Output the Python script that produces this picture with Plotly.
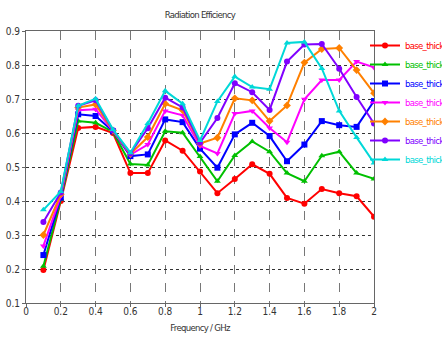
import plotly.graph_objects as go

# Frequency sweep points (GHz)
freq = [0.1, 0.2, 0.3, 0.4, 0.5, 0.6, 0.7, 0.8, 0.9, 1.0,
        1.1, 1.2, 1.3, 1.4, 1.5, 1.6, 1.7, 1.8, 1.9, 2.0]

# Radiation efficiency per base thickness
eff_10 = [0.197, 0.400, 0.615, 0.618, 0.600, 0.482, 0.482, 0.578, 0.548, 0.487,
          0.423, 0.465, 0.508, 0.480, 0.409, 0.392, 0.435, 0.423, 0.414, 0.354]
eff_15 = [0.208, 0.405, 0.635, 0.630, 0.603, 0.509, 0.506, 0.605, 0.601, 0.531,
          0.458, 0.534, 0.575, 0.545, 0.482, 0.458, 0.533, 0.545, 0.482, 0.465]
eff_20 = [0.241, 0.410, 0.655, 0.650, 0.605, 0.532, 0.537, 0.640, 0.632, 0.554,
          0.498, 0.596, 0.630, 0.591, 0.517, 0.566, 0.635, 0.623, 0.618, 0.694]
eff_25 = [0.268, 0.415, 0.667, 0.670, 0.606, 0.536, 0.566, 0.665, 0.652, 0.562,
          0.540, 0.657, 0.665, 0.615, 0.573, 0.699, 0.756, 0.756, 0.810, 0.793]
eff_30 = [0.300, 0.420, 0.675, 0.684, 0.607, 0.538, 0.588, 0.686, 0.667, 0.569,
          0.586, 0.702, 0.696, 0.635, 0.681, 0.807, 0.847, 0.850, 0.785, 0.717]
eff_35 = [0.338, 0.425, 0.680, 0.696, 0.608, 0.540, 0.614, 0.704, 0.675, 0.571,
          0.644, 0.746, 0.720, 0.668, 0.810, 0.860, 0.862, 0.789, 0.706, 0.628]
eff_40 = [0.374, 0.428, 0.680, 0.701, 0.610, 0.542, 0.628, 0.724, 0.686, 0.578,
          0.693, 0.766, 0.735, 0.729, 0.865, 0.868, 0.790, 0.665, 0.587, 0.512]

names = ["base_thick=10", "base_thick=15", "base_thick=20", "base_thick=25",
         "base_thick=30", "base_thick=35", "base_thick=40"]
series = [eff_10, eff_15, eff_20, eff_25, eff_30, eff_35, eff_40]

colors = ["#ff0000", "#00c000", "#0000ff", "#ff00ff", "#ff8000", "#8000ff", "#00d8d8"]
symbols = ["circle", "triangle-up", "square", "triangle-down", "diamond", "circle", "triangle-up"]

FONT = "DejaVu Sans Condensed, DejaVu Sans, sans-serif"
NARROW = "font-stretch:condensed;letter-spacing:-0.7px"

fig = go.Figure()
for name, vals, col, sym in zip(names, series, colors, symbols):
    fig.add_trace(go.Scatter(
        x=freq, y=vals, mode="lines+markers",
        name=f"<span style='color:{col};{NARROW}'>{name}</span>",
        line=dict(color=col, width=2),
        marker=dict(color=col, symbol=sym, size=6),
    ))

fig.update_layout(
    width=442, height=343,
    paper_bgcolor="white", plot_bgcolor="white",
    margin=dict(l=26, r=68, t=31, b=40, autoexpand=False),
    font=dict(family=FONT, size=10, color="#333"),
    title=dict(text=f"<span style='{NARROW}'>Radiation Efficiency</span>",
               x=200 / 442, xanchor="center",
               y=1 - 15 / 343, yanchor="middle",
               font=dict(family=FONT, size=9.5, color="#333")),
    showlegend=True,
    legend=dict(x=1 - 9 / 348, xanchor="left", y=1.0, yanchor="top",
                bgcolor="rgba(0,0,0,0)", borderwidth=0,
                font=dict(family=FONT, size=9.5),
                tracegroupgap=0, itemwidth=30),
)

fig.update_xaxes(
    range=[0, 2], dtick=0.2, tick0=0,
    showline=True, mirror=True, linecolor="#666", linewidth=1,
    showgrid=True, gridcolor="#777", griddash="dash", gridwidth=1,
    ticks="outside", ticklen=3, tickcolor="#666", ticklabelstandoff=-4,
    zeroline=False,
    title=dict(text=f"<span style='{NARROW}'>Frequency / GHz</span>", standoff=8,
               font=dict(family=FONT, size=9.5)),
)
fig.update_yaxes(
    range=[0.1, 0.9], dtick=0.1, tick0=0.1,
    showline=True, mirror=True, linecolor="#666", linewidth=1,
    showgrid=True, gridcolor="#333", griddash="dot", gridwidth=1,
    ticks="outside", ticklen=3, tickcolor="#666",
    zeroline=False,
)

fig.write_html("out.html")
